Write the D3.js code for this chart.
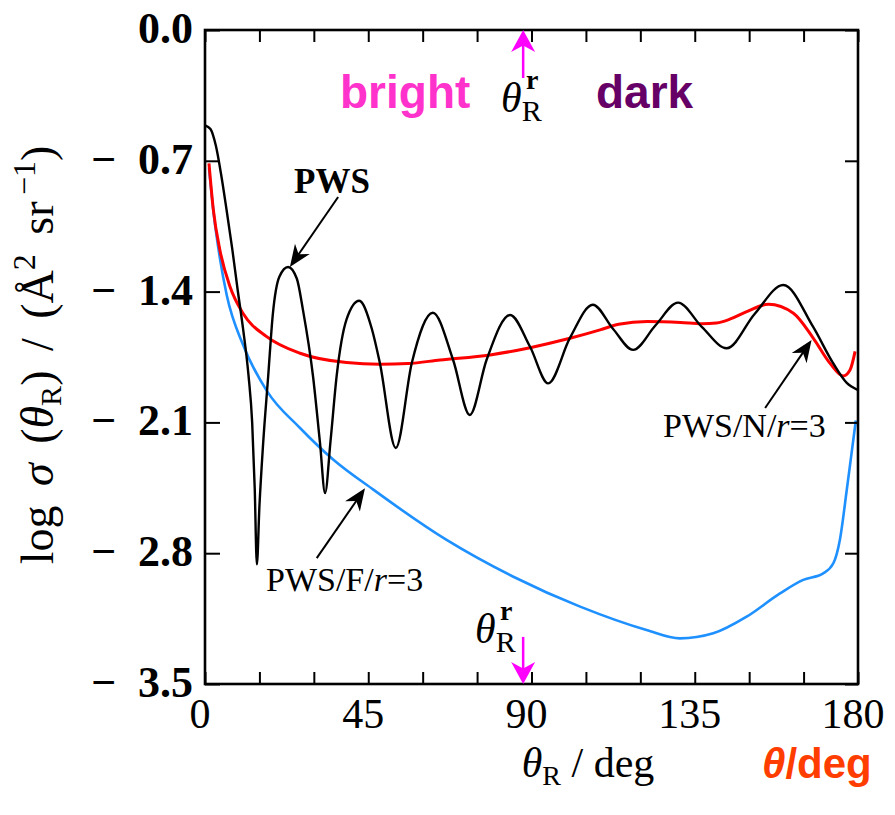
<!DOCTYPE html>
<html>
<head>
<meta charset="utf-8">
<script src="https://cdn.jsdelivr.net/npm/d3@7"></script>
<style>
  html, body { margin: 0; padding: 0; background: #fff; }
  svg { display: block; }
  .serif { font-family: "Liberation Serif", "Times New Roman", serif; }
  .sans { font-family: "Liberation Sans", Arial, sans-serif; }
</style>
</head>
<body>
<svg id="chart" width="895" height="815"></svg>
<script>
// Scattering angle (deg) and log differential cross section for each model
const pwsDeg = [0, 1.5, 3, 4.5, 6, 7.5, 9, 10.5, 12, 13, 13.7, 14.3, 15.0, 16.0, 17.4, 18.7, 20.5, 22.9, 25.3, 27.0, 29.8, 31.7, 33.1, 34.6, 36.3, 39, 42.5, 46, 48.2, 52.6, 57.0, 62.8, 68.4, 73.0, 77.6, 84.1, 89.6, 94.6, 100.6, 106.9, 112.5, 118.0, 124.2, 130.4, 137, 143.8, 151.5, 159.4, 167.6, 173.1, 176.9, 180];
const pwsVal = [-0.51, -0.53, -0.62, -0.78, -0.97, -1.17, -1.39, -1.60, -1.85, -2.10, -2.45, -2.86, -2.55, -2.22, -1.857, -1.52, -1.32, -1.268, -1.33, -1.498, -1.857, -2.21, -2.478, -2.20, -1.85, -1.55, -1.449, -1.60, -1.782, -2.237, -1.782, -1.513, -1.766, -2.06, -1.766, -1.525, -1.695, -1.891, -1.648, -1.470, -1.60, -1.712, -1.58, -1.459, -1.59, -1.703, -1.52, -1.365, -1.588, -1.782, -1.889, -1.927];

const pwsNDeg = [1.1, 2.3, 4.1, 6.9, 10.6, 17.0, 26.2, 39.0, 48.2, 56, 64.8, 78.6, 89.6, 100.6, 108.9, 114, 121.9, 131.1, 137, 141, 145, 149, 155.3, 162.2, 167.7, 172.3, 175.9, 177.8, 179.2];
const pwsNVal = [-0.714, -0.963, -1.177, -1.374, -1.52, -1.641, -1.73, -1.78, -1.789, -1.785, -1.766, -1.739, -1.70, -1.65, -1.605, -1.575, -1.56, -1.565, -1.572, -1.568, -1.545, -1.51, -1.468, -1.516, -1.65, -1.784, -1.852, -1.82, -1.72];

const pwsFDeg = [1.1, 2.5, 4.1, 6.0, 10.6, 17.0, 26.2, 35.4, 46.4, 66.6, 85.0, 103.4, 121.7, 130.9, 140.1, 149.3, 158.5, 164.9, 170.4, 173.2, 175.0, 176.9, 178.7, 179.4];
const pwsFVal = [-0.74, -1.0, -1.22, -1.42, -1.69, -1.93, -2.13, -2.30, -2.46, -2.729, -2.926, -3.086, -3.211, -3.256, -3.229, -3.14, -3.015, -2.943, -2.908, -2.854, -2.729, -2.462, -2.194, -2.09];

const xTickLabels = [0, 45, 90, 135, 180];
const xMinorTicks = d3.range(0, 181, 15);
const yTickLabels = [0.0, -0.7, -1.4, -2.1, -2.8, -3.5];

// Rainbow angle marker position (deg)
const rainbowDeg = 87.7;

const svg = d3.select("#chart");
const margin = { left: 205, right: 37, top: 30, bottom: 131 };
const W = 895, H = 815;

const x = d3.scaleLinear().domain([0, 180]).range([margin.left, W - margin.right]);
const y = d3.scaleLinear().domain([0, -3.5]).range([margin.top, H - margin.bottom]);

const toPoints = (xs, ys) => xs.map((d, i) => [d, ys[i]]);
const line = d3.line().x(d => x(d[0])).y(d => y(d[1])).curve(d3.curveMonotoneX);

// Curves
svg.append("path").datum(toPoints(pwsFDeg, pwsFVal))
  .attr("d", line).attr("fill", "none").attr("stroke", "#1e90ff").attr("stroke-width", 2.6);
svg.append("path").datum(toPoints(pwsNDeg, pwsNVal))
  .attr("d", line).attr("fill", "none").attr("stroke", "#ff0000").attr("stroke-width", 3);
svg.append("path").datum(toPoints(pwsDeg, pwsVal))
  .attr("d", line).attr("fill", "none").attr("stroke", "#000").attr("stroke-width", 2.4);

// Inward ticks on all four sides
const tickStyle = g => {
  g.select(".domain").remove();
  g.selectAll(".tick line").attr("stroke", "#000").attr("stroke-width", 2);
  g.selectAll(".tick text").remove();
};
svg.append("g").attr("transform", `translate(0,${y(-3.5)})`)
  .call(d3.axisBottom(x).tickValues(xMinorTicks).tickSize(-12)).call(tickStyle);
svg.append("g").attr("transform", `translate(0,${y(0)})`)
  .call(d3.axisTop(x).tickValues(xMinorTicks).tickSize(-12)).call(tickStyle);
svg.append("g").attr("transform", `translate(${x(0)},0)`)
  .call(d3.axisLeft(y).tickValues(yTickLabels).tickSize(-15)).call(tickStyle);
svg.append("g").attr("transform", `translate(${x(180)},0)`)
  .call(d3.axisRight(y).tickValues(yTickLabels).tickSize(-13)).call(tickStyle);

// Frame
svg.append("rect")
  .attr("x", x(0)).attr("y", y(0))
  .attr("width", x(180) - x(0)).attr("height", y(-3.5) - y(0))
  .attr("fill", "none").attr("stroke", "#000").attr("stroke-width", 2.6);

// Tick labels
svg.append("g").selectAll("text").data(xTickLabels).join("text")
  .attr("class", "serif")
  .attr("x", d => x(d) - 5).attr("y", y(-3.5) + 44)
  .attr("text-anchor", "middle").attr("font-size", 42)
  .text(d => d);

const fmtY = d => d === 0 ? "0.0" : "\u2212\u2002" + Math.abs(d).toFixed(1);
svg.append("g").selectAll("text").data(yTickLabels).join("text")
  .attr("class", "serif")
  .attr("x", x(0) - 12).attr("y", d => y(d) + 13)
  .attr("text-anchor", "end").attr("font-size", 44).attr("font-weight", "bold")
  .text(fmtY);

// Axis titles
const xt = svg.append("text").attr("class", "serif")
  .attr("x", 588).attr("y", 777).attr("text-anchor", "middle").attr("font-size", 42);
xt.append("tspan").attr("font-style", "italic").text("\u03b8");
xt.append("tspan").attr("font-size", 28).attr("dy", 8).text("R");
xt.append("tspan").attr("dy", -8).text(" / deg");

const yt = svg.append("text").attr("class", "serif")
  .attr("transform", `translate(53,355) rotate(-90)`)
  .attr("text-anchor", "middle").attr("font-size", 46).attr("word-spacing", 8);
yt.append("tspan").text("log ");
yt.append("tspan").attr("font-style", "italic").text("\u03c3");
yt.append("tspan").text(" (");
yt.append("tspan").attr("font-style", "italic").text("\u03b8");
yt.append("tspan").attr("font-size", 30).attr("dy", 8).text("R");
yt.append("tspan").attr("dy", -8).text(") / (\u00c5");
yt.append("tspan").attr("font-size", 32).attr("dy", -18).text("2");
yt.append("tspan").attr("dy", 18).text(" sr");
yt.append("tspan").attr("font-size", 32).attr("dy", -18).text("\u2009\u22121");
yt.append("tspan").attr("dy", 18).text(")");

const tt = svg.append("text").attr("class", "sans")
  .attr("x", 762).attr("y", 778).attr("font-size", 42).attr("font-weight", "bold")
  .attr("fill", "#ff3d00");
tt.append("tspan").attr("font-style", "italic").text("\u03b8");
tt.append("tspan").text("/deg");

// Region labels
svg.append("text").attr("class", "sans")
  .attr("x", 340).attr("y", 108).attr("font-size", 46).attr("font-weight", "bold")
  .attr("fill", "#ff33cc").text("bright");
svg.append("text").attr("class", "sans")
  .attr("x", 596).attr("y", 108).attr("font-size", 46).attr("font-weight", "bold")
  .attr("fill", "#660066").text("dark");

// Arrow helper: line with filled triangular head at (x2,y2)
function arrow(x1, y1, x2, y2, color, len, half, width) {
  const dx = x2 - x1, dy = y2 - y1, L = Math.hypot(dx, dy);
  const ux = dx / L, uy = dy / L;
  const bx = x2 - ux * len, by = y2 - uy * len;
  svg.append("line").attr("x1", x1).attr("y1", y1)
    .attr("x2", x2 - ux * len * 0.6).attr("y2", y2 - uy * len * 0.6)
    .attr("stroke", color).attr("stroke-width", width);
  svg.append("path")
    .attr("d", `M${x2},${y2}L${bx - uy * half},${by + ux * half}L${x2 - ux * len * 0.7},${y2 - uy * len * 0.7}L${bx + uy * half},${by - ux * half}Z`)
    .attr("fill", color);
}

// Curve labels
svg.append("text").attr("class", "serif")
  .attr("x", 332).attr("y", 193).attr("text-anchor", "middle")
  .attr("font-size", 35).attr("font-weight", "bold").text("PWS");
arrow(x(36.7), y(-0.894), x(23.4), y(-1.268), "#000", 22, 9, 2);

const lf = svg.append("text").attr("class", "serif")
  .attr("x", 266).attr("y", 591).attr("font-size", 34);
lf.append("tspan").text("PWS/F/");
lf.append("tspan").attr("font-style", "italic").text("r");
lf.append("tspan").text("=3");
arrow(x(30.8), y(-2.826), x(44.1), y(-2.453), "#000", 22, 9, 2);

const ln = svg.append("text").attr("class", "serif")
  .attr("x", 663).attr("y", 437).attr("font-size", 34);
ln.append("tspan").text("PWS/N/");
ln.append("tspan").attr("font-style", "italic").text("r");
ln.append("tspan").text("=3");
arrow(x(154.4), y(-2.023), x(167.2), y(-1.659), "#000", 22, 9, 2);

// Rainbow angle markers (top and bottom)
function rainbowLabel(px, py) {
  const t = svg.append("text").attr("class", "serif").attr("x", px).attr("y", py).attr("font-size", 42);
  t.append("tspan").attr("font-style", "italic").text("\u03b8");
  t.append("tspan").attr("font-size", 30).attr("dy", 9).text("R");
  t.append("tspan").attr("font-size", 28).attr("font-weight", "bold")
    .attr("x", px + 25).attr("dy", -32).text("r");
}
rainbowLabel(501, 112);
arrow(x(rainbowDeg), y(-0.257), x(rainbowDeg), y(0), "#ff00ff", 22, 12, 2.5);
rainbowLabel(475, 643);
arrow(x(rainbowDeg), y(-3.248), x(rainbowDeg), y(-3.5), "#ff00ff", 22, 12, 2.5);
</script>
</body>
</html>
